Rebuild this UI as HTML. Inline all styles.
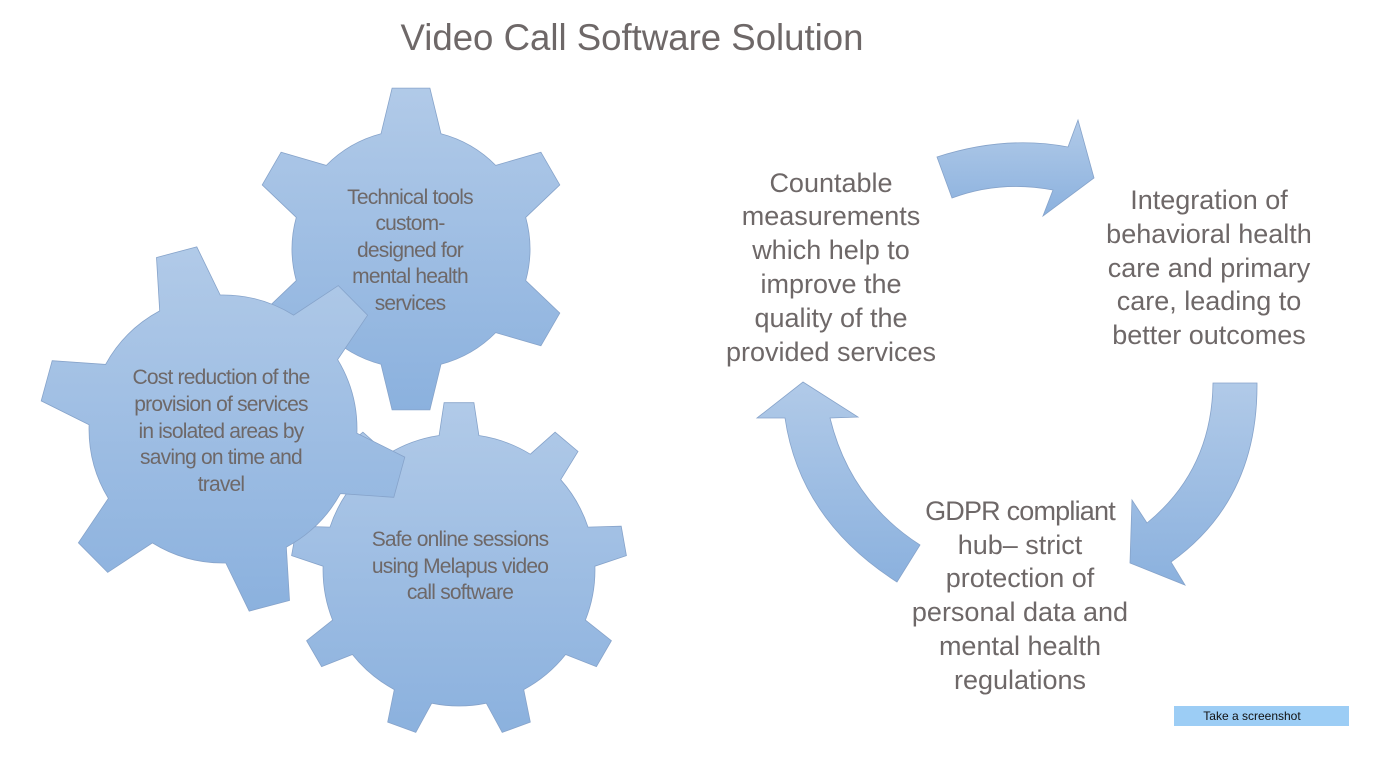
<!DOCTYPE html>
<html><head><meta charset="utf-8"><style>
html,body{margin:0;padding:0;background:#fff;}
svg{display:block;}
text{font-family:"Liberation Sans",Arial,sans-serif;fill:#6e6868;}
</style></head><body>
<svg id="s" width="1377" height="771" viewBox="0 0 1377 771" xmlns="http://www.w3.org/2000/svg">
<defs>
<linearGradient id="g" x1="0" y1="0" x2="0" y2="1">
<stop offset="0" stop-color="#b1cae8"/><stop offset="1" stop-color="#8bb1de"/>
</linearGradient>
</defs>
<text x="632" y="50" font-size="37" text-anchor="middle" textLength="463" lengthAdjust="spacingAndGlyphs">Video Call Software Solution</text>

<path id="g1" fill="url(#g)" stroke="#86a3ca" stroke-width="0.8"/>
<path id="g3" fill="url(#g)" stroke="#86a3ca" stroke-width="0.8"/>
<path id="g2" fill="url(#g)" stroke="#86a3ca" stroke-width="0.8"/>

<g font-size="21" text-anchor="middle" letter-spacing="-0.8" style="fill:#686262">
<text x="410" y="204">Technical tools</text>
<text x="410" y="230">custom-</text>
<text x="410" y="257">designed for</text>
<text x="410" y="283">mental health</text>
<text x="410" y="310">services</text>
<text x="221" y="384">Cost reduction of the</text>
<text x="221" y="411">provision of services</text>
<text x="221" y="438">in isolated areas by</text>
<text x="221" y="464">saving on time and</text>
<text x="221" y="491">travel</text>
<text x="460" y="546">Safe online sessions</text>
<text x="460" y="573">using Melapus video</text>
<text x="460" y="599">call software</text>
</g>

<g fill="url(#g)" stroke="#86a3ca" stroke-width="0.8">
<path d="M937,157 Q1005,135 1068,147 L1078,120 L1094,178 L1043,216 L1053,190 Q1000,180 952,198 Z"/>
<path d="M1213,383 L1257,383 Q1258,500 1171,562 L1185,585 L1130,563 L1132,500 L1147,523 Q1212,470 1213,383 Z"/>
<path d="M803,382 L858,417 L830,418 Q850,500 920,545 L897,582 Q800,520 785,418 L757,418 Z"/>
</g>

<g font-size="27" text-anchor="middle">
<text x="831" y="192">Countable</text>
<text x="831" y="225">measurements</text>
<text x="831" y="259">which help to</text>
<text x="831" y="293">improve the</text>
<text x="831" y="327">quality of the</text>
<text x="831" y="361">provided services</text>
<text x="1209" y="209">Integration of</text>
<text x="1209" y="243">behavioral health</text>
<text x="1209" y="277">care and primary</text>
<text x="1209" y="310">care, leading to</text>
<text x="1209" y="344">better outcomes</text>
<text x="1020" y="520" letter-spacing="-0.8">GDPR compliant</text>
<text x="1020" y="554">hub– strict</text>
<text x="1020" y="587">protection of</text>
<text x="1020" y="621">personal data and</text>
<text x="1020" y="655">mental health</text>
<text x="1020" y="689">regulations</text>
</g>

<rect x="1174" y="706" width="175" height="20" fill="#9ccdf5"/>
<text x="1252" y="720" font-size="12" text-anchor="middle" style="fill:#111">Take a screenshot</text>
</svg>
<script>
function gear(cx,cy,R,r,n,a0,tip,base){
  var d="",rad=Math.PI/180;
  for(var i=0;i<n;i++){
    var a=a0+i*360/n;
    var p=[[r,a-base],[R,a-tip],[R,a+tip],[r,a+base]];
    for(var j=0;j<4;j++){
      var x=cx+p[j][0]*Math.cos(p[j][1]*rad), y=cy+p[j][0]*Math.sin(p[j][1]*rad);
      if(i==0&&j==0) d+="M"+x.toFixed(1)+","+y.toFixed(1);
      else d+="L"+x.toFixed(1)+","+y.toFixed(1);
    }
    var na=a+360/n-base;
    var x2=cx+r*Math.cos(na*rad), y2=cy+r*Math.sin(na*rad);
    d+="A"+r+","+r+" 0 0 1 "+x2.toFixed(1)+","+y2.toFixed(1);
  }
  return d+"Z";
}
document.getElementById("g1").setAttribute("d",gear(411,249,162,119,6,-90,6.7,14.6));
document.getElementById("g2").setAttribute("d",gear(223,429,184,134,6,-104.7,6.5,13.5));
document.getElementById("g3").setAttribute("d",gear(459,570,168,136,9,-90,5.1,8.4));
</script>
</body></html>
